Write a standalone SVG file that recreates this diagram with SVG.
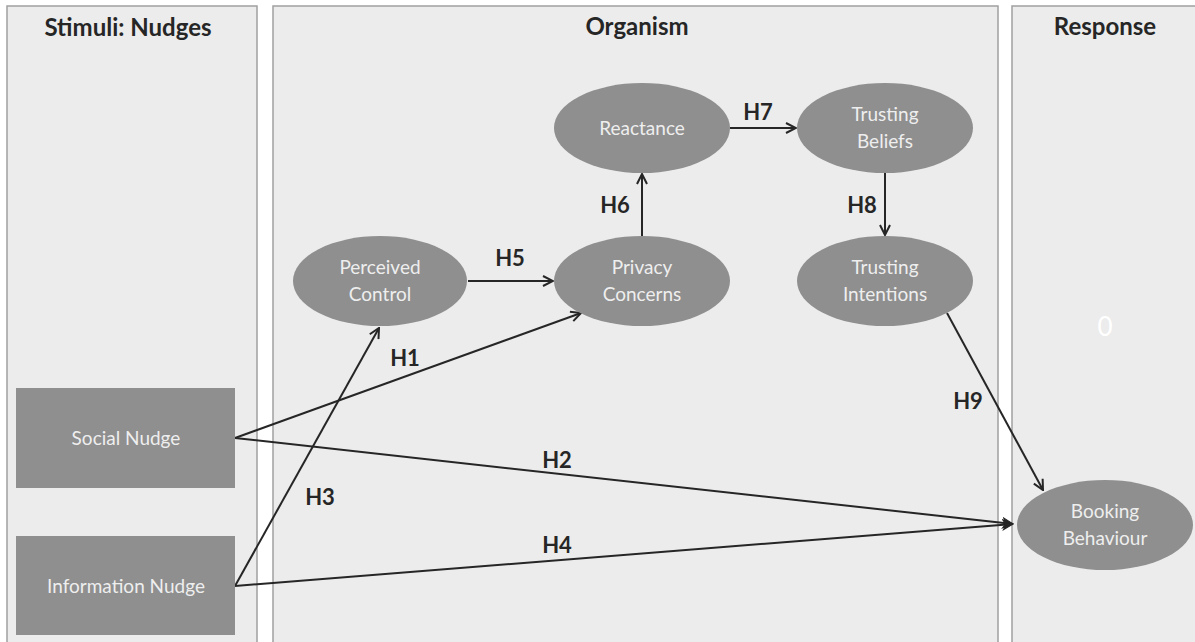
<svg xmlns="http://www.w3.org/2000/svg" width="1195" height="642" viewBox="0 0 1195 642">
<style>
.panel{fill:#ececec;stroke:#a0a0a0;stroke-width:1.5}
.title{font-family:Lato,"Open Sans",sans-serif;font-weight:bold;font-size:24px;fill:#262626;text-anchor:middle}
.node{fill:#8f8f8f}
.nt{font-family:Lato,"Open Sans",sans-serif;font-size:19px;fill:#eeeeee;text-anchor:middle}
.lbl{font-family:Lato,"Open Sans",sans-serif;font-weight:bold;font-size:22px;fill:#262626;text-anchor:middle}
.edge{stroke:#262626;stroke-width:2;fill:none}
</style>
<defs>
<marker id="open" viewBox="0 0 12 12" refX="11" refY="6" markerWidth="12" markerHeight="12" markerUnits="userSpaceOnUse" orient="auto">
<path d="M1,1 L11,6 L1,11" fill="none" stroke="#262626" stroke-width="2"/>
</marker>
<marker id="solid" viewBox="0 0 12 12" refX="11" refY="6" markerWidth="12" markerHeight="12" markerUnits="userSpaceOnUse" orient="auto">
<path d="M1,1 L11,6 L1,11 L4,6 Z" fill="#262626" stroke="#262626" stroke-width="1"/>
</marker>
</defs>
<rect width="1195" height="642" fill="#ffffff"/>
<g id="panel-stimuli"><rect class="panel" x="7" y="6" width="250" height="650"/><text class="title" x="128" y="36">Stimuli: Nudges</text></g>
<g id="panel-organism"><rect class="panel" x="273" y="6" width="725" height="650"/><text class="title" x="637" y="35">Organism</text></g>
<g id="panel-response"><rect class="panel" x="1012" y="6" width="200" height="650"/><text class="title" x="1105" y="35">Response</text><text x="1105" y="336" font-family="Lato,'Open Sans',sans-serif" font-size="26" fill="#ffffff" text-anchor="middle">0</text></g>
<g id="connectors">
<line class="edge" x1="468" y1="281" x2="553" y2="281" marker-end="url(#open)"/>
<line class="edge" x1="642" y1="236" x2="642" y2="174" marker-end="url(#open)"/>
<line class="edge" x1="730" y1="128" x2="796" y2="128" marker-end="url(#open)"/>
<line class="edge" x1="885" y1="173" x2="885" y2="235" marker-end="url(#open)"/>
<line class="edge" x1="235" y1="438" x2="581" y2="313" marker-end="url(#open)"/>
<line class="edge" x1="235" y1="586" x2="379" y2="328" marker-end="url(#open)"/>
<line class="edge" x1="235" y1="438" x2="1013" y2="524" marker-end="url(#solid)"/>
<line class="edge" x1="235" y1="586" x2="1013" y2="524" marker-end="url(#solid)"/>
<line class="edge" x1="947" y1="313" x2="1043" y2="490" marker-end="url(#open)"/>
<text class="lbl" x="405" y="366">H1</text>
<text class="lbl" x="557" y="468">H2</text>
<text class="lbl" x="320" y="505">H3</text>
<text class="lbl" x="557" y="553">H4</text>
<text class="lbl" x="510" y="266">H5</text>
<text class="lbl" x="615" y="213">H6</text>
<text class="lbl" x="758" y="120">H7</text>
<text class="lbl" x="862" y="213">H8</text>
<text class="lbl" x="968" y="409">H9</text>
</g>
<g id="social-nudge"><rect class="node" x="16" y="388" width="219" height="100"/><text class="nt" x="126" y="445">Social Nudge</text></g>
<g id="information-nudge"><rect class="node" x="16" y="536" width="219" height="99"/><text class="nt" x="126" y="593">Information Nudge</text></g>
<g id="perceived-control"><ellipse class="node" cx="380" cy="281" rx="87" ry="45"/><text class="nt" x="380" y="274">Perceived</text><text class="nt" x="380" y="301">Control</text></g>
<g id="privacy-concerns"><ellipse class="node" cx="642" cy="281" rx="88" ry="45"/><text class="nt" x="642" y="274">Privacy</text><text class="nt" x="642" y="301">Concerns</text></g>
<g id="reactance"><ellipse class="node" cx="642" cy="128" rx="88" ry="45"/><text class="nt" x="642" y="135">Reactance</text></g>
<g id="trusting-beliefs"><ellipse class="node" cx="885" cy="128" rx="88" ry="45"/><text class="nt" x="885" y="121">Trusting</text><text class="nt" x="885" y="148">Beliefs</text></g>
<g id="trusting-intentions"><ellipse class="node" cx="885" cy="281" rx="88" ry="45"/><text class="nt" x="885" y="274">Trusting</text><text class="nt" x="885" y="301">Intentions</text></g>
<g id="booking-behaviour"><ellipse class="node" cx="1105" cy="525" rx="88" ry="45"/><text class="nt" x="1105" y="518">Booking</text><text class="nt" x="1105" y="545">Behaviour</text></g>
</svg>
